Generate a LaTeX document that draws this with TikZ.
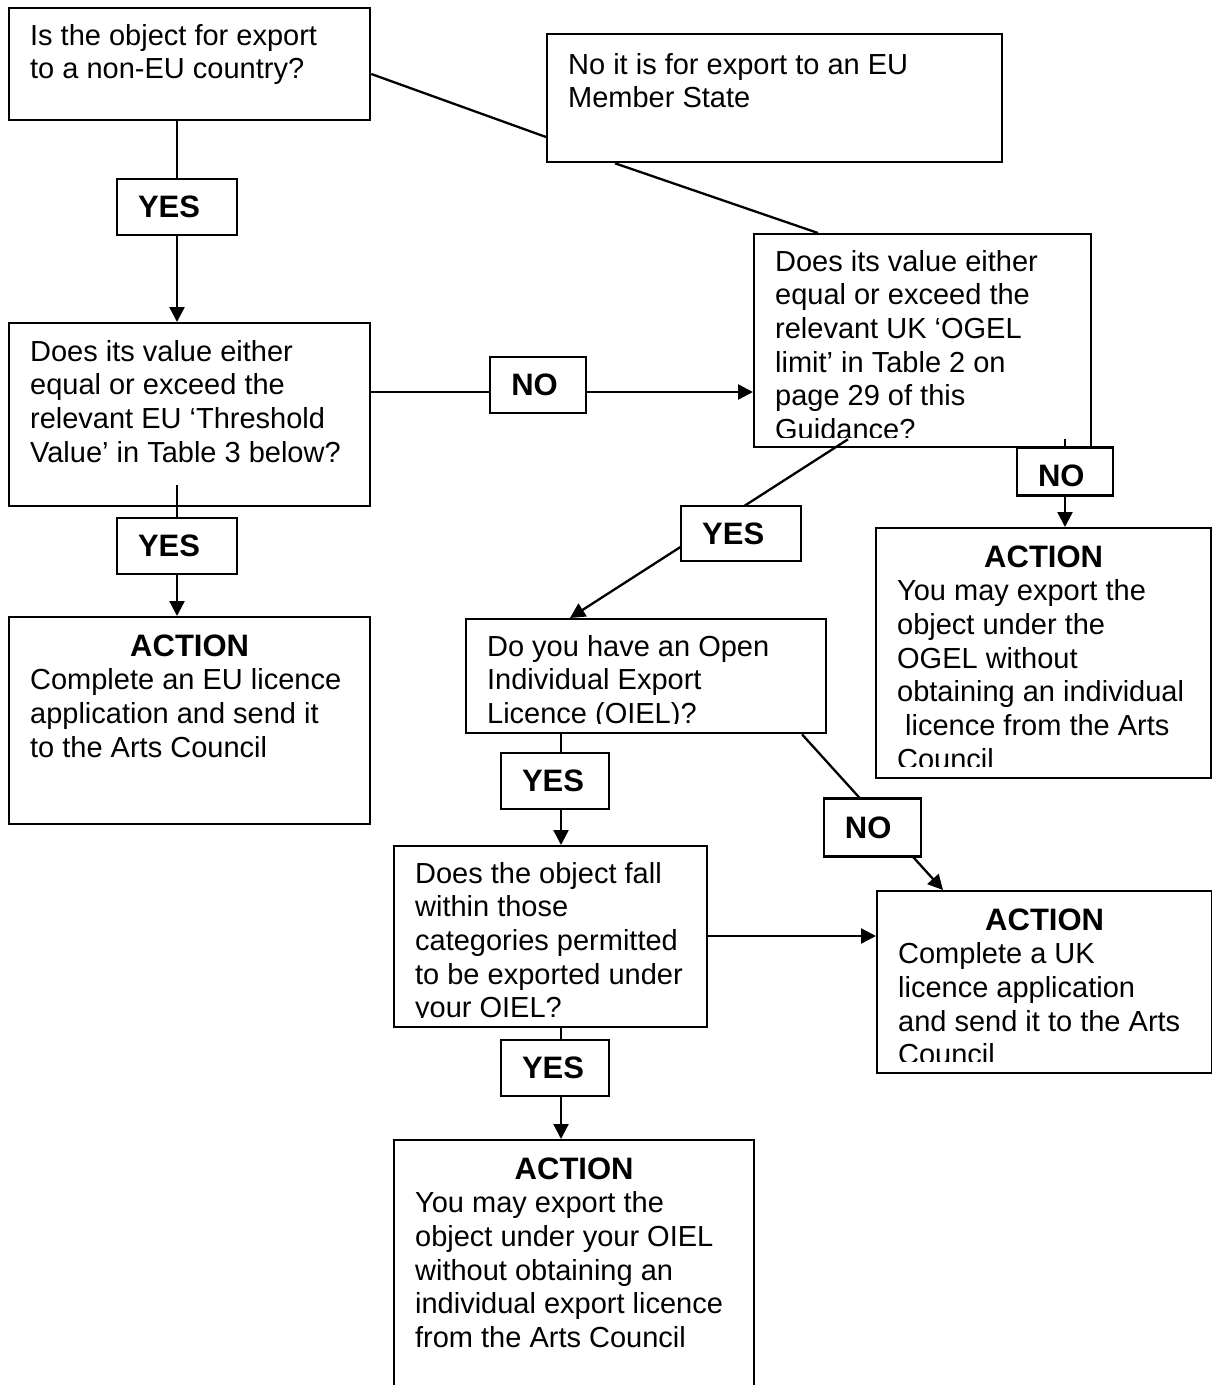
\documentclass[tikz,border=0pt]{standalone}
\usepackage{fontspec}
\setmainfont{Liberation Sans}
\usetikzlibrary{positioning,calc,arrows.meta}
\tikzset{box/.style={draw, fill=white, line width=2.3pt, anchor=north west, inner sep=0pt},
         lab/.style={draw, fill=white, line width=2.3pt, font=\bfseries\fontsize{31}{34}\selectfont,
                     inner xsep=21pt, inner ysep=0pt, minimum height=56pt, text width=#1, align=left},
         con/.style={line width=2.3pt},
         arr/.style={con, -{Triangle[length=15pt,width=15pt]}}
}
% text of a box: width, height, first baseline, lines
\newcommand{\boxtxt}[4]{\parbox[c][#2][t]{#1}{\leftskip=21pt\rightskip=0pt plus 1fil
  \fontsize{29}{33.7}\selectfont\rule{0pt}{#3}#4}}
\newcommand{\actiontxt}[3]{\parbox[c][#2][t]{#1}{\centering\bfseries\fontsize{31}{34}\selectfont
  \rule{0pt}{39pt}ACTION\par
  \leftskip=21pt\rightskip=0pt plus 1fil\mdseries\fontsize{29}{33.7}\selectfont #3}}

\begin{document}
\begin{tikzpicture}[x=1pt,y=-1pt]
  \path[use as bounding box, fill=white] (0,0) rectangle (1212,1385);

  % questions and actions
  \node[box] (q1) at (8,7) {\boxtxt{361pt}{112pt}{37pt}{Is the object for export\\to a non-EU country?}};
  \node[box] (noeu) at (546,33) {\boxtxt{455pt}{128pt}{40pt}{No it is for export to an EU\\Member State}};
  \node[box] (q2) at (8,322) {\boxtxt{361pt}{183pt}{38pt}{Does its value either\\equal or exceed the\\relevant EU ‘Threshold\\Value’ in Table 3 below?}};
  \node[box] (q3) at (753,233) {\boxtxt{337pt}{213pt}{37pt}{Does its value either\\equal or exceed the\\relevant UK ‘OGEL\\limit’ in Table 2 on\\page 29 of this\\Guidance?}};
  \node[box] (a1) at (8,616) {\actiontxt{361pt}{207pt}{Complete an EU licence\\application and send it\\to the Arts Council}};
  \node[box] (a2) at (875,527) {\actiontxt{335pt}{250pt}{You may export the\\object under the\\OGEL without\\obtaining an individual\\\hspace*{8pt}licence from the Arts\\Council}};
  \node[box] (q4) at (465,618) {\boxtxt{360pt}{114pt}{37pt}{Do you have an Open\\Individual Export\\Licence (OIEL)?}};
  \node[box] (q5) at (393,845) {\boxtxt{313pt}{181pt}{37pt}{Does the object fall\\within those\\categories permitted\\to be exported under\\your OIEL?}};
  \node[box] (a3) at (876,890) {\actiontxt{335pt}{182pt}{Complete a UK\\licence application\\and send it to the Arts\\Council}};
  \node[box] (a4) at (393,1139) {\actiontxt{360pt}{300pt}{You may export the\\object under your OIEL\\without obtaining an\\individual export licence\\from the Arts Council}};

  % text frames cut the last line
  \foreach \b/\h in {q3/10.6,q4/10.6,q5/10.6,a2/12.5,a3/12.5}
    \fill[white] ($(\b.south west)+(2.6,-\h)$) rectangle ($(\b.south east)+(-2.6,-2.6)$);

  % EU member state
  \draw[con] ($(q1.north east)+(0,67)$) -- ($(noeu.north west)+(0,104)$);
  \draw[con] ($(noeu.south west)+(69,0)$) -- ($(q3.north west)+(65,0)$);

  % yes / no branches
  \draw[arr] ($(q1.south west)+(169,0)$) -- node[lab=78pt, pos=0.426] (yes1) {YES} ($(q2.north west)+(169,0)$);
  \draw[arr] ($(q2.north east)+(0,70)$) -- node[lab=54pt, pos=0.4375, yshift=7pt] (no1) {NO} ($(q3.north west)+(0,159)$);
  \draw[arr] ($(q2.south west)+(169,-22)$) -- node[lab=78pt, pos=0.466] (yes2) {YES} ($(a1.north west)+(169,0)$);
  \draw[arr] ($(q3.south west)+(312,-9)$) -- node[lab=54pt, pos=0.367, minimum height=48pt, text height=30pt, text depth=0pt] (no2) {NO} ($(a2.north west)+(190,0)$);
  \draw[arr] ($(q3.south west)+(95,-9)$) -- node[lab=78pt, pos=0.528, xshift=40pt, minimum height=55pt] (yes3) {YES} ($(q4.north west)+(105,0)$);
  \draw[arr] ($(q4.south west)+(96,0)$) -- node[lab=66pt, pos=0.42, xshift=-6pt] (yes4) {YES} ($(q5.north west)+(168,0)$);
  \draw[arr] ($(q4.south west)+(337,0)$) -- node[lab=55pt, pos=0.599, xshift=-14pt, minimum height=58pt] (no3) {NO} ($(a3.north west)+(67,0)$);
  \draw[arr] ($(q5.north east)+(0,91)$) -- ($(a3.north west)+(0,46)$);
  \draw[arr] ($(q5.south west)+(168,0)$) -- node[lab=66pt, pos=0.358, xshift=-6pt] (yes5) {YES} ($(a4.north west)+(168,0)$);
\end{tikzpicture}
\end{document}
